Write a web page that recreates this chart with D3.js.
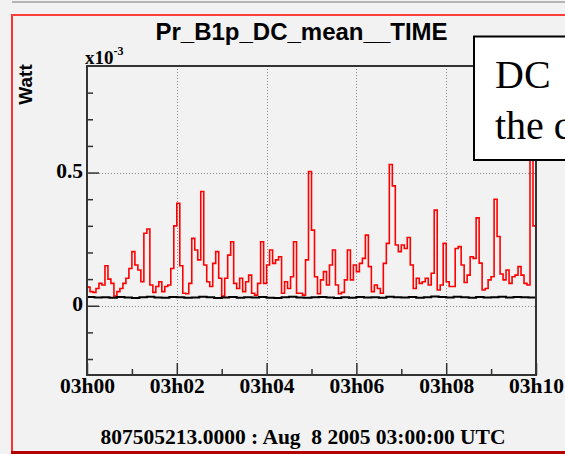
<!DOCTYPE html>
<html>
<head>
<meta charset="utf-8">
<script src="https://cdn.jsdelivr.net/npm/d3@7"></script>
<style>
  html, body { margin: 0; padding: 0; background: #f2f2f2; }
  svg { display: block; }
</style>
</head>
<body>
<svg id="chart" width="565" height="454"></svg>
<script>
// Pr_B1p_DC_mean over ten minutes, in units of 1e-3 W
const redStepSec = 4;
const redValues = [
  0.07, 0.053, 0.05, 0.065, 0.084, 0.078, 0.15, 0.10, 0.084, 0.036,
  0.053, 0.065, 0.084, 0.103, 0.14, 0.203, 0.153, 0.134, 0.09, 0.272,
  0.288, 0.078, 0.05, 0.072, 0.09, 0.053, 0.072, 0.078, 0.14, 0.30,
  0.385, 0.15, 0.047, 0.045, 0.084, 0.253, 0.209, 0.172, 0.429, 0.153,
  0.09, 0.072, 0.159, 0.203, 0.103, 0.036, 0.103, 0.19, 0.24, 0.084,
  0.065, 0.103, 0.053, 0.09, 0.115, 0.047, 0.04, 0.084, 0.24, 0.084,
  0.153, 0.209, 0.159, 0.172, 0.184, 0.047, 0.09, 0.065, 0.109, 0.24,
  0.047, 0.047, 0.04, 0.172, 0.504, 0.284, 0.109, 0.045, 0.097, 0.128,
  0.078, 0.153, 0.209, 0.078, 0.045, 0.05, 0.097, 0.209, 0.097, 0.153,
  0.128, 0.159, 0.178, 0.265, 0.147, 0.053, 0.078, 0.065, 0.047, 0.159,
  0.234, 0.53, 0.45, 0.228, 0.203, 0.228, 0.215, 0.256, 0.153, 0.065,
  0.103, 0.084, 0.09, 0.103, 0.078, 0.122, 0.359, 0.059, 0.078, 0.234,
  0.09, 0.072, 0.072, 0.215, 0.222, 0.153, 0.087, 0.115, 0.184, 0.178,
  0.33, 0.16, 0.059, 0.065, 0.097, 0.109, 0.40, 0.26, 0.119, 0.097,
  0.134, 0.084, 0.109, 0.115, 0.147, 0.115, 0.084, 0.078, 0.62, 0.30,
  0.109
];

// Reference channel, nearly flat
const blackStepSec = 10;
const blackValues = [
  0.033, 0.031, 0.032, 0.030, 0.033, 0.031, 0.029, 0.032, 0.034, 0.031,
  0.030, 0.033, 0.032, 0.030, 0.031, 0.034, 0.032, 0.029, 0.031, 0.033,
  0.030, 0.032, 0.031, 0.033, 0.030, 0.029, 0.032, 0.034, 0.031, 0.030,
  0.032, 0.033, 0.031, 0.029, 0.032, 0.030, 0.033, 0.031, 0.032, 0.030,
  0.034, 0.032, 0.031, 0.033, 0.030, 0.032, 0.035, 0.033, 0.031, 0.034,
  0.032, 0.030, 0.033, 0.031, 0.032, 0.034, 0.031, 0.033, 0.032, 0.031,
  0.032
];

const xTickMinutes = [0, 2, 4, 6, 8, 10];
const xTickLabels = ["03h00", "03h02", "03h04", "03h06", "03h08", "03h10"];
const xMinorMinutes = [1, 3, 5, 7, 9];
const yTickValues = [0, 0.5];
const yTickLabels = ["0", "0.5"];
const yMinorValues = [-0.2, -0.1, 0.1, 0.2, 0.3, 0.4, 0.6, 0.7, 0.8];

const titleText = "Pr_B1p_DC_mean__TIME";
const yTitle = "Watt";
const timeOffsetText = "807505213.0000 : Aug\u00a0\u00a08 2005 03:00:00 UTC";
const noteLines = ["DC", "the c"];

const t0 = Date.UTC(2005, 7, 8, 3, 0, 0);
const minute = 60 * 1000;

const svg = d3.select("#chart");
const W = 565, H = 454;
const plot = { left: 87, right: 536, top: 66, bottom: 375 };

const x = d3.scaleUtc()
  .domain([new Date(t0), new Date(t0 + 10 * minute)])
  .range([plot.left, plot.right]);
const y = d3.scaleLinear()
  .domain([-0.26, 0.9])
  .range([plot.bottom, plot.top]);

// Canvas
svg.append("rect").attr("width", W).attr("height", H).attr("fill", "#f2f2f2");
svg.append("line")
  .attr("x1", 12).attr("x2", W).attr("y1", 2).attr("y2", 2)
  .attr("stroke", "#b4b4b4").attr("stroke-width", 2);
// Pad border
svg.append("line").attr("x1", 12).attr("x2", 12).attr("y1", 14).attr("y2", 452)
  .attr("stroke", "#ff3030").attr("stroke-width", 2);
svg.append("line").attr("x1", 11).attr("x2", W).attr("y1", 15).attr("y2", 15)
  .attr("stroke", "#ff3c3c").attr("stroke-width", 2);
svg.append("line").attr("x1", 11).attr("x2", W).attr("y1", 452.5).attr("y2", 452.5)
  .attr("stroke", "#b30000").attr("stroke-width", 3);

// Grid
const gridStyle = g => g.attr("stroke", "#8c8c8c").attr("stroke-width", 1)
  .attr("stroke-dasharray", "1,2");
svg.append("g").selectAll("line")
  .data(xTickMinutes.slice(1, -1))
  .join("line")
  .attr("x1", d => Math.round(x(new Date(t0 + d * minute))) + 0.5)
  .attr("x2", d => Math.round(x(new Date(t0 + d * minute))) + 0.5)
  .attr("y1", plot.top).attr("y2", plot.bottom)
  .call(gridStyle);
svg.append("g").selectAll("line")
  .data(yTickValues)
  .join("line")
  .attr("x1", plot.left).attr("x2", plot.right)
  .attr("y1", d => Math.round(y(d)) + 0.5)
  .attr("y2", d => Math.round(y(d)) + 0.5)
  .call(gridStyle);

// Series
svg.append("clipPath").attr("id", "clip")
  .append("rect")
  .attr("x", plot.left).attr("y", plot.top)
  .attr("width", plot.right - plot.left).attr("height", plot.bottom - plot.top);

const redLine = d3.line()
  .x((d, i) => x(new Date(t0 + i * redStepSec * 1000)))
  .y(d => y(d))
  .curve(d3.curveStepAfter);
const blackLine = d3.line()
  .x((d, i) => x(new Date(t0 + i * blackStepSec * 1000)))
  .y(d => y(d))
  .curve(d3.curveStepAfter);

const series = svg.append("g").attr("clip-path", "url(#clip)");
series.append("path")
  .attr("d", redLine(redValues))
  .attr("fill", "none").attr("stroke", "#ff0000").attr("stroke-width", 1.6)
  .attr("stroke-linejoin", "miter");
series.append("path")
  .attr("d", blackLine(blackValues))
  .attr("fill", "none").attr("stroke", "#000").attr("stroke-width", 2);

// Axes
const axisColor = "#333";
const serif = "'Liberation Serif', 'Times New Roman', serif";

const xAxis = d3.axisBottom(x)
  .tickValues(xTickMinutes.map(m => new Date(t0 + m * minute)))
  .tickFormat((d, i) => xTickLabels[i])
  .tickSize(-12).tickPadding(3);
const xMinor = d3.axisBottom(x)
  .tickValues(xMinorMinutes.map(m => new Date(t0 + m * minute)))
  .tickFormat("")
  .tickSize(-6);
const yAxis = d3.axisLeft(y)
  .tickValues(yTickValues)
  .tickFormat((d, i) => yTickLabels[i])
  .tickSize(-12).tickPadding(4);
const yMinor = d3.axisLeft(y)
  .tickValues(yMinorValues)
  .tickFormat("")
  .tickSize(-6);

function styleAxis(g) {
  g.select(".domain").remove();
  g.selectAll(".tick line").attr("stroke", axisColor).attr("stroke-width", 1.5);
  g.selectAll("text")
    .attr("fill", "#000")
    .style("font-family", serif)
    .style("font-weight", "bold")
    .style("font-size", "21.5px");
}

svg.append("g").attr("transform", `translate(0,${plot.bottom})`).call(xAxis).call(styleAxis);
svg.append("g").attr("transform", `translate(0,${plot.bottom})`).call(xMinor).call(styleAxis);
const yg = svg.append("g").attr("transform", `translate(${plot.left},0)`).call(yAxis).call(styleAxis);
yg.selectAll("text").attr("dy", "0.22em");
svg.append("g").attr("transform", `translate(${plot.left},0)`).call(yMinor).call(styleAxis);

// Frame
svg.append("rect")
  .attr("x", plot.left).attr("y", plot.top)
  .attr("width", plot.right - plot.left).attr("height", plot.bottom - plot.top)
  .attr("fill", "none").attr("stroke", axisColor).attr("stroke-width", 2);

// Exponent label
const expo = svg.append("text")
  .attr("x", 85).attr("y", 64)
  .style("font-family", serif).style("font-weight", "bold").style("font-size", "19px")
  .attr("fill", "#000");
expo.append("tspan").text("x10");
expo.append("tspan").attr("dy", -9).style("font-size", "12px").text("-3");

// Y title
svg.append("text")
  .attr("transform", "translate(32,84.5) rotate(-90)")
  .attr("text-anchor", "middle")
  .style("font-family", "'Liberation Sans', Arial, sans-serif")
  .style("font-weight", "bold").style("font-size", "19px")
  .attr("fill", "#000")
  .text(yTitle);

// Title
svg.append("text")
  .attr("x", 301.5).attr("y", 40)
  .attr("text-anchor", "middle")
  .style("font-family", "'Liberation Sans', Arial, sans-serif")
  .style("font-weight", "bold").style("font-size", "24px")
  .attr("fill", "#000")
  .text(titleText);

// Time offset
svg.append("text")
  .attr("x", 303).attr("y", 444)
  .attr("text-anchor", "middle")
  .style("font-family", serif).style("font-weight", "bold").style("font-size", "21.5px")
  .attr("fill", "#000")
  .text(timeOffsetText);

// Note box
svg.append("rect")
  .attr("x", 474).attr("y", 36.5)
  .attr("width", 120).attr("height", 123.5)
  .attr("fill", "#fff").attr("stroke", "#000").attr("stroke-width", 2);
svg.append("g").selectAll("text")
  .data(noteLines)
  .join("text")
  .attr("x", 495)
  .attr("y", (d, i) => 88 + i * 51)
  .style("font-family", serif).style("font-size", "40px")
  .attr("fill", "#000")
  .text(d => d);
</script>
</body>
</html>
